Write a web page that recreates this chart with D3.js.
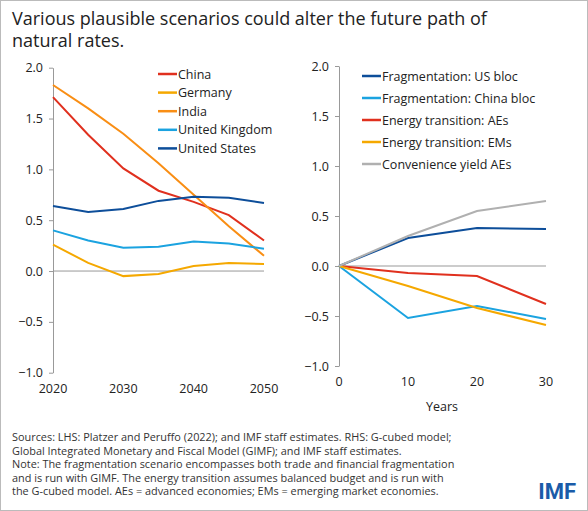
<!DOCTYPE html><html><head><meta charset="utf-8">
<script src="https://cdn.jsdelivr.net/npm/d3@7"></script>
<style>body{margin:0;background:#fff;font-family:"Open Sans",sans-serif}</style></head><body>
<svg id="c" width="588" height="511"></svg>
<script>
const yearsL=[2020,2025,2030,2035,2040,2045,2050];
const seriesNamesL=["China","Germany","India","United Kingdom","United States"];
const china=[1.71,1.34,1.01,0.79,0.68,0.55,0.30];
const germany=[0.26,0.08,-0.05,-0.03,0.05,0.08,0.07];
const india=[1.83,1.60,1.35,1.06,0.75,0.44,0.15];
const uk=[0.40,0.30,0.23,0.24,0.29,0.27,0.22];
const us=[0.64,0.58,0.61,0.69,0.73,0.72,0.67];
const colorsL=["#e0301e","#f5a800","#f98e14","#1ba3e0","#0d4e9a"];
const yearsR=[0,10,20,30];
const seriesNamesR=["Fragmentation: US bloc","Fragmentation: China bloc","Energy transition: AEs","Energy transition: EMs","Convenience yield AEs"];
const usBloc=[0,0.28,0.38,0.37];
const chinaBloc=[0,-0.52,-0.40,-0.53];
const etAEs=[0,-0.07,-0.10,-0.38];
const etEMs=[0,-0.20,-0.42,-0.59];
const conv=[0,0.30,0.55,0.65];
const colorsR=["#0d4e9a","#1ba3e0","#e0301e","#f5a800","#b0b0b0"];
const yTicks=[-1,-0.5,0,0.5,1,1.5,2];

const svg=d3.select("#c");
svg.append("rect").attr("x",0.5).attr("y",0.5).attr("width",587).attr("height",510).attr("fill","none").attr("stroke","#bbb");
svg.append("text").attr("x",12).attr("y",25).attr("font-size",18).attr("fill","#222").text("Various plausible scenarios could alter the future path of");
svg.append("text").attr("x",12).attr("y",47).attr("font-size",18).attr("fill","#222").text("natural rates.");

function panel(xd,xs,ys,seriesData,names,colors,leg,xTicks){
  const g=svg.append("g");
  const y=d3.scaleLinear().domain([-1,2]).range(ys);
  const x=d3.scaleLinear().domain(xd).range(xs);
  const ax=g.append("g").attr("transform",`translate(${xs[0]},0)`).call(d3.axisLeft(y).tickValues(yTicks).tickFormat(d3.format(".1f")).tickSize(4).tickSizeOuter(0));
  ax.selectAll("text").attr("font-size",12.5).attr("fill","#222").attr("font-family","Open Sans").attr("dx",-3);
  ax.selectAll("path,line").attr("stroke","#999");
  g.append("line").attr("x1",xs[0]).attr("x2",xs[1]).attr("y1",y(0)).attr("y2",y(0)).attr("stroke","#999");
  g.selectAll(".xt").data(xTicks).enter().append("text").attr("x",d=>x(d)).attr("y",ys[0]+20).attr("text-anchor","middle").attr("font-size",12.5).attr("fill","#222").text(d=>d);
  const xv=d3.range(seriesData[0].length).map(i=>xd[0]+i*(xd[1]-xd[0])/(seriesData[0].length-1));
  const line=d3.line().x((d,i)=>x(xv[i])).y(d=>y(d));
  seriesData.forEach((s,k)=>g.append("path").attr("d",line(s)).attr("fill","none").attr("stroke",colors[k]).attr("stroke-width",2));
  names.forEach((n,k)=>{
    const yy=leg.y+k*leg.dy;
    g.append("line").attr("x1",leg.x).attr("x2",leg.x+19).attr("y1",yy).attr("y2",yy).attr("stroke",colors[k]).attr("stroke-width",2.5);
    g.append("text").attr("x",leg.x+20).attr("y",yy+4.5).attr("font-size",12.5).attr("fill","#222").text(n);
  });
  return g;
}
panel([2020,2050],[53,264],[372.7,67.7],[china,germany,india,uk,us],seriesNamesL,colorsL,{x:158,y:74,dy:18.6},[2020,2030,2040,2050]);
panel([0,30],[339,546],[366,66],[usBloc,chinaBloc,etAEs,etEMs,conv],seriesNamesR,colorsR,{x:362,y:76,dy:22},[0,10,20,30]);
svg.append("text").attr("x",442).attr("y",411).attr("text-anchor","middle").attr("font-size",12.5).attr("fill","#222").text("Years");

const notes=["Sources: LHS: Platzer and Peruffo (2022); and IMF staff estimates. RHS: G-cubed model;",
"Global Integrated Monetary and Fiscal Model (GIMF); and IMF staff estimates.",
"Note: The fragmentation scenario encompasses both trade and financial fragmentation",
"and is run with GIMF. The energy transition assumes balanced budget and is run with",
"the G-cubed model. AEs = advanced economies; EMs = emerging market economies."];
svg.selectAll(".n").data(notes).enter().append("text").attr("x",12).attr("y",(d,i)=>441+i*13.5).attr("font-size",10.9).attr("fill","#333").text(d=>d);
svg.append("text").attr("x",576).attr("y",499).attr("text-anchor","end").attr("font-size",22).attr("font-weight","bold").attr("fill","#1a5ba8").attr("font-family","Roboto").text("IMF");
</script></body></html>
